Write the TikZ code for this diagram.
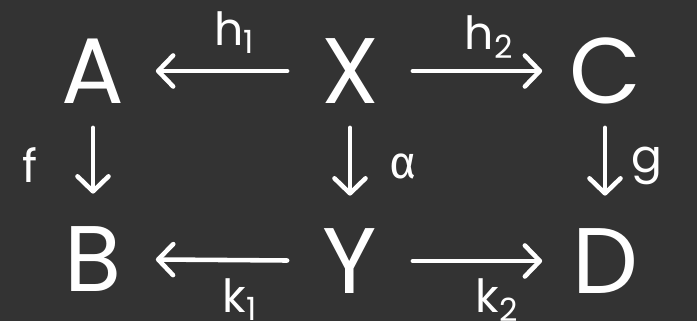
\documentclass[tikz,border=0pt]{standalone}
\usepackage{fontspec}
\setmainfont{Poppins}
\newfontfamily\greekfont{Fira Sans}
\usepackage{xcolor}
\usetikzlibrary{arrows.meta,positioning}
\definecolor{board}{RGB}{51,51,51}

\begin{document}
\begin{tikzpicture}[
    on grid,
    obj/.style={minimum width=2.5cm, minimum height=1.6cm, inner sep=0pt, text=white, font=\fontsize{53}{53}\selectfont},
    lbl/.style={text=white, inner sep=0pt, font=\fontsize{26}{26}\selectfont},
    arrow/.style={-{Straight Barb[length=0.3cm,width=0.62cm,line cap=round,line join=round]}, line width=2.6pt, white, line cap=round},
    downarrow/.style={arrow, shorten <=0.33cm, shorten >=0.5cm}
]
    % background
    \useasboundingbox (0,0) rectangle (13.94,6.42);
    \fill[board] (0,0) rectangle (13.94,6.42);

    \node[obj] (A) at (1.86,5.0) {A};
    \node[obj, right=5.14cm of A] (X) {X};
    \node[obj, right=5.1cm of X] (C) {C};
    \node[obj, below=3.76cm of A] (B) {B};
    \node[obj, below=3.8cm of X] (Y) {Y};
    \node[obj, below=3.8cm of C] (D) {D};

    \draw[arrow] (X) -- node[lbl, pos=0.4, yshift=0.76cm] {h\textsubscript{1}} (A);
    \draw[arrow] (X) -- node[lbl, pos=0.59, yshift=0.68cm] {h\textsubscript{2}} (C);
    \draw[downarrow] (A) -- node[lbl, xshift=-1.26cm] {f} (B);
    \draw[downarrow] (X) -- node[lbl, xshift=1.06cm] {\greekfont α} (Y);
    \draw[downarrow] (C) -- node[lbl, xshift=0.84cm] {g} (D);
    \draw[arrow] (Y) -- node[lbl, pos=0.36, yshift=-0.78cm] {k\textsubscript{1}} (B);
    \draw[arrow] (Y) -- node[lbl, pos=0.65, yshift=-0.78cm] {k\textsubscript{2}} (D);
\end{tikzpicture}
\end{document}
